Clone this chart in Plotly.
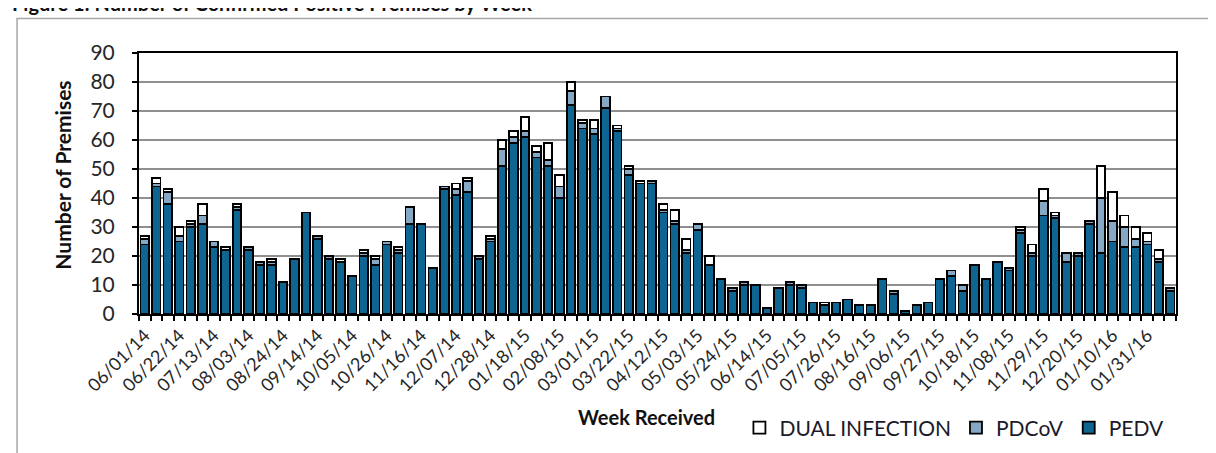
import pandas as pd
import plotly.graph_objects as go

# ---- data ----
weeks = [d.strftime("%m/%d/%y") for d in pd.date_range("2014-06-01", periods=90, freq="7D")]

pedv = [24, 44, 38, 25, 30, 31, 23, 22, 36, 22,
        17, 17, 11, 19, 35, 26, 19, 18, 13, 20,
        17, 24, 21, 31, 31, 16, 43, 41, 42, 19,
        25, 51, 59, 61, 54, 51, 40, 72, 64, 62,
        71, 63, 48, 45, 45, 35, 31, 21, 29, 17,
        12, 8, 10, 10, 2, 9, 10, 9, 4, 3,
        4, 5, 3, 3, 12, 7, 1, 3, 4, 12,
        13, 8, 17, 12, 18, 15, 28, 20, 34, 33,
        18, 20, 31, 21, 25, 23, 23, 24, 18, 8]

pdcov = [2, 1, 4, 2, 1, 3, 2, 0, 1, 1,
         1, 1, 0, 0, 0, 1, 1, 0, 0, 1,
         2, 1, 1, 6, 0, 0, 1, 2, 4, 1,
         1, 6, 2, 2, 2, 2, 4, 5, 2, 2,
         4, 1, 2, 0, 1, 1, 1, 1, 2, 0,
         0, 1, 1, 0, 0, 0, 1, 1, 0, 0,
         0, 0, 0, 0, 0, 1, 0, 0, 0, 0,
         2, 2, 0, 0, 0, 1, 1, 1, 5, 1,
         3, 1, 1, 19, 7, 7, 3, 1, 1, 1]

dual = [1, 2, 1, 3, 1, 4, 0, 1, 1, 0,
        0, 1, 0, 0, 0, 0, 0, 1, 0, 1,
        1, 0, 1, 0, 0, 0, 0, 2, 1, 0,
        1, 3, 2, 5, 2, 6, 4, 3, 1, 3,
        0, 1, 1, 1, 0, 2, 4, 4, 0, 3,
        0, 0, 0, 0, 0, 0, 0, 0, 0, 1,
        0, 0, 0, 0, 0, 0, 0, 0, 0, 0,
        0, 0, 0, 0, 0, 0, 1, 3, 4, 1,
        0, 0, 0, 11, 10, 4, 4, 3, 3, 0]

tick_labels = [w if i % 3 == 0 else "" for i, w in enumerate(weeks)]

FONT = "Lato"
PEDV_C = "#0e6592"
PDCOV_C = "#86a8c4"


def nz(vals):
    return [v if v else None for v in vals]


fig = go.Figure()
for name, vals, col in [("PEDV", pedv, PEDV_C),
                        ("PDCoV", pdcov, PDCOV_C),
                        ("DUAL INFECTION", dual, "#ffffff")]:
    fig.add_trace(go.Bar(
        x=weeks, y=nz(vals), name=name,
        marker=dict(color=col, line=dict(color="#000000", width=1.8)),
    ))

fig.update_layout(
    width=1216, height=453,
    margin=dict(l=131, r=48, t=45, b=139),
    barmode="stack", bargap=0.26,
    paper_bgcolor="white", plot_bgcolor="white",
    font=dict(family=FONT, color="#262626"),
    showlegend=True,
    legend=dict(orientation="h", traceorder="reversed",
                x=0.579, xanchor="left", y=-0.437, yanchor="middle",
                font=dict(family=FONT, size=21, color="#1a1a2a"),
                bgcolor="rgba(0,0,0,0)", itemclick=False),
)

fig.update_xaxes(
    type="category", tickmode="array", tickvals=weeks, ticktext=tick_labels,
    tickson="boundaries", ticks="outside", ticklen=5, tickwidth=2, tickcolor="black",
    tickangle=-45, ticklabelstandoff=2,
    tickfont=dict(family=FONT, size=18, color="#262626"),
    showline=True, linecolor="black", linewidth=2, mirror=True,
    showgrid=False, range=[-0.5, 89.5],
)
fig.update_yaxes(
    range=[0, 90], dtick=10, tick0=0,
    ticks="outside", ticklen=5, tickwidth=2, tickcolor="black",
    ticklabelstandoff=13,
    tickfont=dict(family=FONT, size=21, color="#262626"),
    showline=True, linecolor="black", linewidth=2, mirror=True,
    showgrid=True, gridcolor="#8f8f8f", gridwidth=2, zeroline=False,
)

# outer frame
fig.add_shape(type="rect", xref="paper", yref="paper",
              x0=-0.1176, x1=1.08, y0=-0.7, y1=1.1318,
              line=dict(color="#a8a8a8", width=1.5), layer="below")

# titles
fig.add_annotation(text="<b>Figure 1: Number of Confirmed Positive Premises by Week</b>",
                   xref="paper", yref="paper", x=-0.1244, y=1.19, xanchor="left", yanchor="middle",
                   showarrow=False, font=dict(family=FONT, size=20, color="#111111"))
fig.add_annotation(text="<b>Number of Premises</b>", textangle=-90,
                   xref="paper", yref="paper", x=-0.0735, y=0.533, xanchor="center", yanchor="middle",
                   showarrow=False, font=dict(family=FONT, size=21, color="#111111"))
fig.add_annotation(text="<b>Week Received</b>",
                   xref="paper", yref="paper", x=0.4897, y=-0.395, xanchor="center", yanchor="middle",
                   showarrow=False, font=dict(family=FONT, size=20, color="#111111"))

fig.write_html("out.html")
